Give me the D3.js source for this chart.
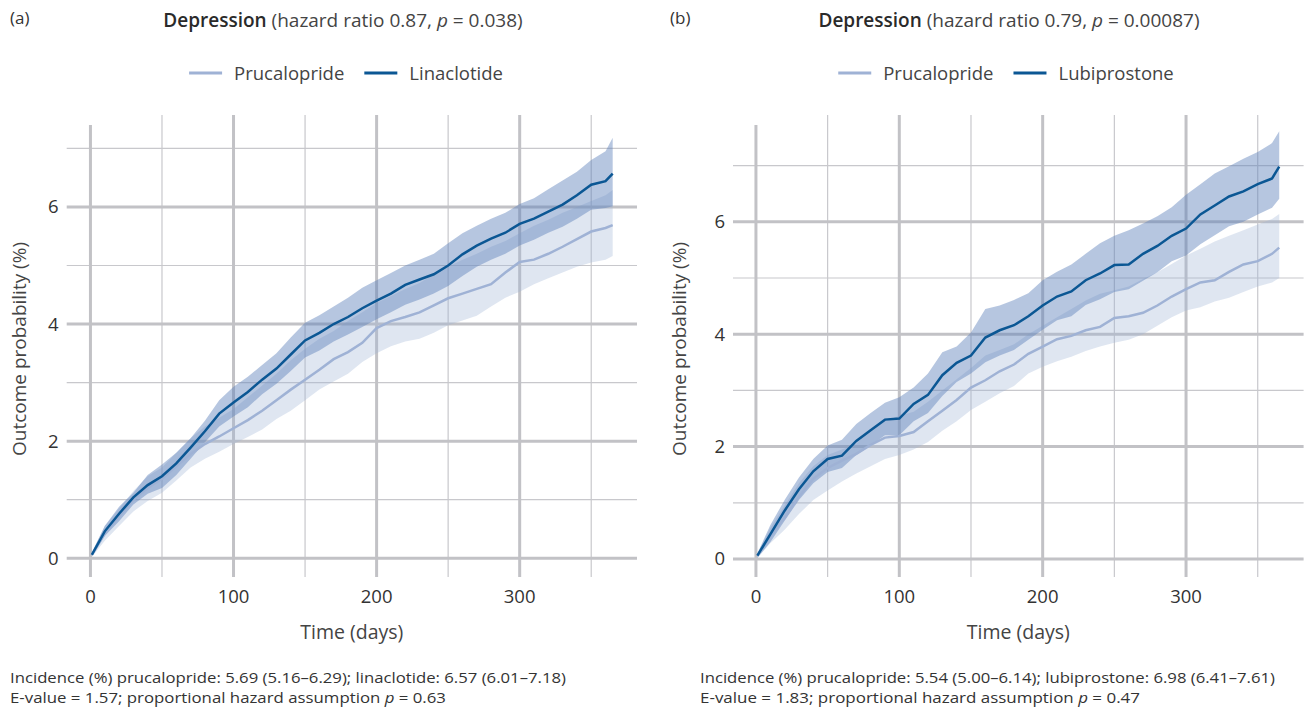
<!DOCTYPE html>
<html lang="en">
<head>
<meta charset="UTF-8">
<title>Depression cumulative incidence</title>
<script src="https://d3js.org/d3.v7.min.js"></script>
<style>
  body { margin: 0; background: #fff; }
  svg { display: block; font-family: "Open Sans", sans-serif; }
</style>
</head>
<body>
<script>
// time points (days)
const days = [1,10,20,30,40,50,60,70,80,90,100,110,120,130,140,150,160,170,180,190,200,
              210,220,230,240,250,260,270,280,290,300,310,320,330,340,350,360,365];

// panel (a) prucalopride vs linaclotide
const aProEst = [0.06,0.42,0.72,1.00,1.20,1.36,1.57,1.78,1.95,2.08,2.22,2.36,2.52,2.70,2.88,3.05,3.22,3.40,3.52,3.68,3.93,
                 4.05,4.12,4.20,4.32,4.44,4.52,4.60,4.68,4.88,5.06,5.10,5.20,5.32,5.45,5.58,5.64,5.69];
const aProLo  = [0.02,0.30,0.55,0.80,0.98,1.12,1.33,1.55,1.70,1.82,1.95,2.07,2.20,2.38,2.52,2.70,2.88,3.02,3.15,3.35,3.50,
                 3.62,3.70,3.75,3.85,3.98,4.06,4.14,4.30,4.45,4.55,4.68,4.78,4.88,4.98,5.05,5.10,5.16];
const aProHi  = [0.10,0.55,0.85,1.15,1.40,1.55,1.80,2.05,2.25,2.40,2.55,2.75,2.95,3.15,3.38,3.58,3.75,3.88,4.05,4.20,4.36,
                 4.48,4.60,4.70,4.85,4.98,5.10,5.20,5.32,5.42,5.55,5.68,5.78,5.90,6.00,6.10,6.20,6.29];
const aLinEst = [0.06,0.46,0.76,1.04,1.25,1.40,1.62,1.89,2.17,2.47,2.66,2.84,3.05,3.24,3.48,3.72,3.85,4.00,4.12,4.27,4.40,
                 4.52,4.67,4.76,4.85,5.00,5.19,5.34,5.46,5.56,5.71,5.80,5.92,6.04,6.20,6.38,6.44,6.57];
const aLinLo  = [0.03,0.38,0.63,0.92,1.10,1.20,1.42,1.70,1.98,2.25,2.42,2.58,2.80,2.98,3.20,3.43,3.55,3.70,3.82,3.95,4.08,
                 4.20,4.33,4.42,4.52,4.65,4.82,4.98,5.10,5.20,5.34,5.44,5.56,5.66,5.80,5.95,5.98,6.01];
const aLinHi  = [0.10,0.55,0.88,1.12,1.42,1.60,1.80,2.05,2.35,2.70,2.93,3.10,3.30,3.50,3.77,4.02,4.15,4.30,4.45,4.62,4.75,
                 4.87,5.00,5.10,5.20,5.38,5.55,5.68,5.80,5.90,6.05,6.15,6.30,6.45,6.60,6.80,6.95,7.18];

// panel (b) prucalopride vs lubiprostone
const bProEst = [0.06,0.41,0.73,1.11,1.43,1.62,1.75,1.87,2.03,2.16,2.19,2.26,2.45,2.64,2.83,3.05,3.18,3.34,3.46,3.65,3.78,
                 3.91,3.97,4.07,4.13,4.29,4.32,4.38,4.51,4.67,4.80,4.92,4.96,5.11,5.24,5.30,5.43,5.54];
const bProLo  = [0.02,0.28,0.52,0.80,1.05,1.22,1.38,1.52,1.65,1.78,1.85,1.95,2.08,2.28,2.45,2.65,2.80,2.95,3.08,3.30,3.42,
                 3.52,3.60,3.70,3.78,3.85,3.90,4.00,4.15,4.30,4.42,4.48,4.58,4.65,4.75,4.85,4.92,5.00];
const bProHi  = [0.10,0.55,0.95,1.35,1.65,1.85,1.95,2.05,2.30,2.45,2.55,2.62,2.80,3.00,3.20,3.40,3.62,3.72,3.82,4.00,4.15,
                 4.30,4.45,4.60,4.72,4.78,4.85,4.98,5.10,5.25,5.40,5.52,5.65,5.75,5.85,5.95,6.05,6.14];
const bLubEst = [0.06,0.44,0.86,1.24,1.56,1.78,1.84,2.10,2.29,2.48,2.50,2.76,2.92,3.27,3.49,3.62,3.94,4.07,4.16,4.32,4.51,
                 4.67,4.76,4.96,5.08,5.23,5.24,5.43,5.57,5.75,5.88,6.13,6.29,6.45,6.54,6.67,6.77,6.98];
const bLubLo  = [0.02,0.30,0.68,1.05,1.35,1.55,1.62,1.85,2.02,2.20,2.20,2.45,2.60,2.90,3.15,3.30,3.50,3.62,3.72,3.90,4.08,
                 4.25,4.32,4.52,4.62,4.75,4.80,4.95,5.10,5.30,5.40,5.60,5.76,5.92,6.00,6.13,6.25,6.41];
const bLubHi  = [0.10,0.60,1.05,1.45,1.78,2.02,2.12,2.40,2.60,2.78,2.88,3.05,3.30,3.68,3.78,4.03,4.45,4.51,4.61,4.73,4.96,
                 5.11,5.24,5.43,5.62,5.75,5.85,5.97,6.10,6.26,6.48,6.67,6.86,6.99,7.12,7.24,7.40,7.61];

const xMajor = [0, 100, 200, 300];
const xMinor = [50, 150, 250, 350];
const yMajor = [0, 2, 4, 6];
const yMinor = [1, 3, 5, 7];

const lightCol = "#9fb2d5", darkCol = "#0b5794";
const gridCol = "#c2c2c6";

const svg = d3.select("body").append("svg").attr("width", 1305).attr("height", 713);

function panel(cfg) {
  const g = svg.append("g");
  const x = d3.scaleLinear().domain(cfg.xDom).range([cfg.left, cfg.right]);
  const y = d3.scaleLinear().domain(cfg.yDom).range([577, 115]);

  // grid
  g.selectAll(".hmin").data(yMinor).join("line")
    .attr("x1", cfg.left).attr("x2", cfg.right)
    .attr("y1", d => y(d)).attr("y2", d => y(d))
    .attr("stroke", "#c8c8cc").attr("stroke-width", 1.2);
  g.selectAll(".vmin").data(xMinor).join("line")
    .attr("y1", 115).attr("y2", 577)
    .attr("x1", d => x(d)).attr("x2", d => x(d))
    .attr("stroke", "#c8c8cc").attr("stroke-width", 1.2);
  g.selectAll(".hmaj").data(yMajor).join("line")
    .attr("x1", cfg.left).attr("x2", cfg.right)
    .attr("y1", d => y(d)).attr("y2", d => y(d))
    .attr("stroke", gridCol).attr("stroke-width", 3);
  g.selectAll(".vmaj").data(xMajor).join("line")
    .attr("y1", d => d === 0 ? 125 : 115).attr("y2", 577)
    .attr("x1", d => x(d)).attr("x2", d => x(d))
    .attr("stroke", gridCol).attr("stroke-width", 3);

  const area = (lo, hi) => d3.area()
    .x((d, i) => x(days[i])).y0((d, i) => y(lo[i])).y1((d, i) => y(hi[i]))(days);
  const line = est => d3.line().x((d, i) => x(days[i])).y((d, i) => y(est[i]))(days);

  g.append("path").attr("d", area(cfg.proLo, cfg.proHi)).attr("fill", lightCol).attr("fill-opacity", 0.33);
  g.append("path").attr("d", area(cfg.cmpLo, cfg.cmpHi)).attr("fill", "#5d80ba").attr("fill-opacity", 0.45);
  g.append("path").attr("d", line(cfg.proEst)).attr("fill", "none")
    .attr("stroke", lightCol).attr("stroke-width", 2.5);
  g.append("path").attr("d", line(cfg.cmpEst)).attr("fill", "none")
    .attr("stroke", darkCol).attr("stroke-width", 2.5);

  // tick labels
  g.selectAll(".yt").data(yMajor).join("text")
    .attr("x", cfg.left - 8).attr("y", d => y(d)).attr("dy", "0.35em")
    .attr("text-anchor", "end").attr("font-size", 18.5).attr("fill", "#333").text(d => d);
  g.selectAll(".xt").data(xMajor).join("text")
    .attr("x", d => x(d)).attr("y", 603)
    .attr("text-anchor", "middle").attr("font-size", 18.5).attr("fill", "#333").text(d => d);

  const cx = (cfg.left + cfg.right) / 2;
  g.append("text").attr("x", cx).attr("y", 639).attr("text-anchor", "middle")
    .attr("font-size", 19.5).attr("fill", "#444").text("Time (days)");
  g.append("text").attr("transform", `translate(${cfg.yLabX},349) rotate(-90)`)
    .attr("text-anchor", "middle").attr("font-size", 19).attr("fill", "#444")
    .text("Outcome probability (%)");

  // panel letter and title
  g.append("text").attr("x", cfg.letterX).attr("y", 24).attr("font-size", 17).attr("fill", "#333").text(cfg.letter);
  const t = g.append("text").attr("x", cfg.titleX).attr("y", 27).attr("text-anchor", "middle")
    .attr("font-size", 19).attr("fill", "#444");
  t.append("tspan").attr("font-weight", 600).attr("fill", "#2a2a2a").text("Depression");
  t.append("tspan").text(` (hazard ratio ${cfg.hr}, `);
  t.append("tspan").attr("font-style", "italic").text("p");
  t.append("tspan").text(` = ${cfg.p})`);

  // legend
  const leg = g.append("g");
  let lx = 0;
  [[cfg.proName, lightCol], [cfg.cmpName, darkCol]].forEach(([name, col]) => {
    leg.append("line").attr("x1", lx).attr("x2", lx + 33).attr("y1", 73).attr("y2", 73)
      .attr("stroke", col).attr("stroke-width", 3);
    const tx = leg.append("text").attr("x", lx + 45).attr("y", 80).attr("font-size", 18.5)
      .attr("fill", "#444").text(name);
    lx += 45 + tx.node().getComputedTextLength() + 20;
  });
  const lw = lx - 20;
  leg.attr("transform", `translate(${cfg.legendCx - lw / 2},0)`);

  // footnote, stretched to the width of the original condensed face
  const f1 = g.append("text").attr("x", cfg.noteX).attr("y", 683).attr("font-size", 14).attr("fill", "#333")
    .attr("textLength", cfg.noteW1).attr("lengthAdjust", "spacingAndGlyphs");
  f1.text(cfg.note1);
  const f2 = g.append("text").attr("x", cfg.noteX).attr("y", 703).attr("font-size", 14).attr("fill", "#333")
    .attr("textLength", cfg.noteW2).attr("lengthAdjust", "spacingAndGlyphs");
  f2.append("tspan").text(cfg.note2a);
  f2.append("tspan").attr("font-style", "italic").text("p");
  f2.append("tspan").text(cfg.note2b);
}

panel({
  xDom: [-16.6, 382], yDom: [-0.32, 7.57], left: 66.7, right: 637,
  proEst: aProEst, proLo: aProLo, proHi: aProHi,
  cmpEst: aLinEst, cmpLo: aLinLo, cmpHi: aLinHi,
  proName: "Prucalopride", cmpName: "Linaclotide",
  letter: "(a)", letterX: 10, titleX: 343, legendCx: 346, yLabX: 26,
  hr: "0.87", p: "0.038",
  noteX: 10, noteW1: 556, noteW2: 436,
  note1: "Incidence (%) prucalopride: 5.69 (5.16\u20136.29); linaclotide: 6.57 (6.01\u20137.18)",
  note2a: "E-value = 1.57; proportional hazard assumption ", note2b: " = 0.63"
});

panel({
  xDom: [-16, 382], yDom: [-0.32, 7.9], left: 733, right: 1303.6,
  proEst: bProEst, proLo: bProLo, proHi: bProHi,
  cmpEst: bLubEst, cmpLo: bLubLo, cmpHi: bLubHi,
  proName: "Prucalopride", cmpName: "Lubiprostone",
  letter: "(b)", letterX: 670, titleX: 1009, legendCx: 1006, yLabX: 686,
  hr: "0.79", p: "0.00087",
  noteX: 700, noteW1: 575, noteW2: 440,
  note1: "Incidence (%) prucalopride: 5.54 (5.00\u20136.14); lubiprostone: 6.98 (6.41\u20137.61)",
  note2a: "E-value = 1.83; proportional hazard assumption ", note2b: " = 0.47"
});
</script>
</body>
</html>
